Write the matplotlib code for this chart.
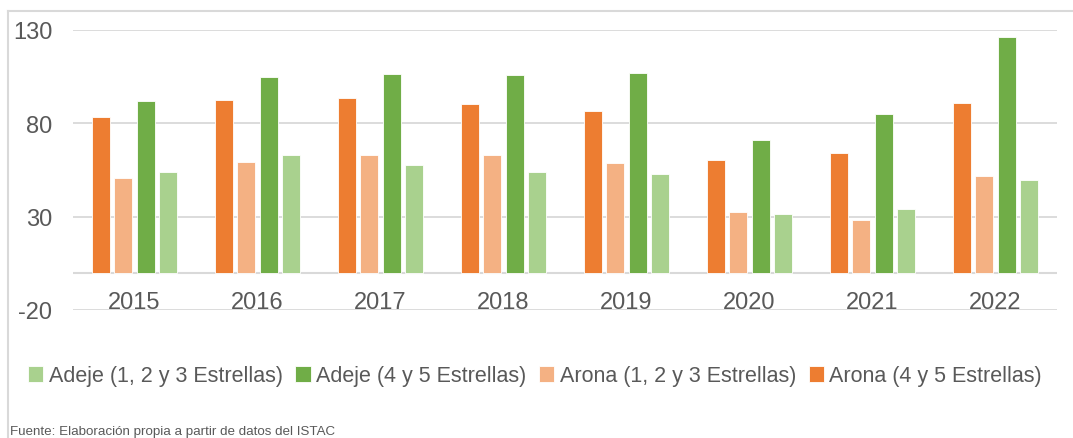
import matplotlib.pyplot as plt
import numpy as np
from matplotlib import font_manager

# font: prefer a narrow sans if available
names = {f.name for f in font_manager.fontManager.ttflist}
fam = 'Liberation Sans Narrow' if 'Liberation Sans Narrow' in names else 'Liberation Sans'
plt.rcParams['font.family'] = [fam, 'DejaVu Sans']
plt.rcParams['axes.unicode_minus'] = False

years = ['2015', '2016', '2017', '2018', '2019', '2020', '2021', '2022']
arona_45 = [83.6, 92.7, 93.8, 90.6, 86.8, 60.6, 64.3, 91.1]
arona_123 = [50.9, 59.5, 63.2, 63.2, 58.9, 32.7, 28.4, 52.0]
adeje_45 = [92.2, 105.0, 106.6, 106.1, 107.2, 71.3, 85.2, 126.0]
adeje_123 = [54.1, 63.2, 57.9, 54.1, 53.0, 31.6, 34.3, 49.8]

series = [
    ('Arona (4 y 5 Estrellas)', arona_45, '#ED7D31'),
    ('Arona (1, 2 y 3 Estrellas)', arona_123, '#F4B183'),
    ('Adeje (4 y 5 Estrellas)', adeje_45, '#70AD47'),
    ('Adeje (1, 2 y 3 Estrellas)', adeje_123, '#A9D18E'),
]

txt = '#595959'
fig = plt.figure(figsize=(10.73, 4.39), dpi=100)
ax = fig.add_axes([73 / 1073, 1 - 311 / 439, 984 / 1073, 280 / 439])

x = np.arange(len(years))
step = 0.183
width = 0.15
handles = []
for i, (name, vals, col) in enumerate(series):
    h = ax.bar(x + (i - 1.5) * step, vals, width=width, color=col,
               edgecolor='white', linewidth=0.6, label=name, zorder=3)
    handles.append(h)

ax.set_xlim(-0.5, len(years) - 0.5)
ax.set_ylim(-20, 130)
ax.set_yticks([-20, 30, 80, 130])
ax.yaxis.grid(True, color='#D9D9D9', linewidth=1.3, zorder=0)
ax.axhline(0, color='#D9D9D9', linewidth=1.5, zorder=2)
ax.tick_params(axis='y', length=0, pad=15, labelsize=17, labelcolor=txt)
ax.set_xticks([])
for s in ax.spines.values():
    s.set_visible(False)

for xi, yr in zip(x, years):
    ax.annotate(yr, (xi, 0), xytext=(0, -13), textcoords='offset points',
                ha='center', va='top', fontsize=17, color=txt)

fig.legend(handles[::-1], [s[0] for s in series][::-1], loc='center',
           bbox_to_anchor=(535 / 1073, 1 - 377 / 439), ncol=4, frameon=False,
           fontsize=15.5, labelcolor=txt, handlelength=0.7, handleheight=0.7,
           handletextpad=0.25, columnspacing=0.6)

fig.text(10 / 1073, 1 - 432 / 439, 'Fuente: Elaboración propia a partir de datos del ISTAC',
         fontsize=9.6, color=txt, ha='left', va='center')

# chart frame
fig.add_artist(plt.Line2D([8 / 1073, 8 / 1073], [0, 1 - 12 / 439], color='#D9D9D9', lw=1.5))
fig.add_artist(plt.Line2D([8 / 1073, 1], [1 - 12 / 439, 1 - 12 / 439], color='#D9D9D9', lw=1.5))

fig.savefig('out.png', dpi=100)
